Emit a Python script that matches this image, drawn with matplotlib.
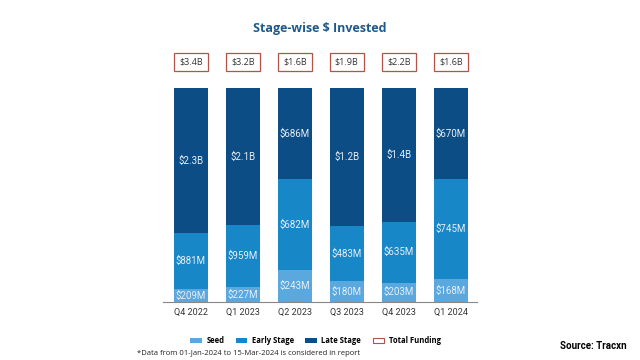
import matplotlib
matplotlib.use("Agg")
import matplotlib.pyplot as plt
from matplotlib.patches import Patch, Rectangle

quarters = ["Q4 2022", "Q1 2023", "Q2 2023", "Q3 2023", "Q4 2023", "Q1 2024"]
seed = [209, 227, 243, 180, 203, 168]          # $M
early = [881, 959, 682, 483, 635, 745]         # $M
late = [2300, 2100, 686, 1200, 1400, 670]      # $M
seed_lbl = ["$209M", "$227M", "$243M", "$180M", "$203M", "$168M"]
early_lbl = ["$881M", "$959M", "$682M", "$483M", "$635M", "$745M"]
late_lbl = ["$2.3B", "$2.1B", "$686M", "$1.2B", "$1.4B", "$670M"]
total_lbl = ["$3.4B", "$3.2B", "$1.6B", "$1.9B", "$2.2B", "$1.6B"]

c_seed = "#5AA8DE"
c_early = "#1887C8"
c_late = "#0D4D85"
c_box = "#B5524C"

plt.rcParams["font.family"] = ["Open Sans", "DejaVu Sans"]

fig = plt.figure(figsize=(6.4, 3.6), dpi=100)
ax = fig.add_axes([0.255, 0.161, 0.49, 0.594])

x = list(range(len(quarters)))
tot = [s + e + l for s, e, l in zip(seed, early, late)]
ps = [s / t for s, t in zip(seed, tot)]
pe = [e / t for e, t in zip(early, tot)]
pl = [l / t for l, t in zip(late, tot)]
w = 0.65

ax.bar(x, ps, w, color=c_seed, label="Seed")
ax.bar(x, pe, w, bottom=ps, color=c_early, label="Early Stage")
bot2 = [a + b for a, b in zip(ps, pe)]
ax.bar(x, pl, w, bottom=bot2, color=c_late, label="Late Stage")

txt = dict(ha="center", va="center", color="#E6EEF6", fontsize=7, family=["Roboto", "DejaVu Sans"])
box_h = 0.084
box_y = 1.121
for i in x:
    ax.text(i, ps[i] / 2, seed_lbl[i], **txt)
    ax.text(i, ps[i] + pe[i] / 2, early_lbl[i], **txt)
    ax.text(i, bot2[i] + pl[i] / 2, late_lbl[i], **txt)
    ax.add_patch(Rectangle((i - w / 2, box_y - box_h / 2), w, box_h, fc="white", ec=c_box,
                           lw=0.9, clip_on=False))
    ax.text(i, box_y, total_lbl[i], ha="center", va="center", fontsize=6.5, color="#333333")

ax.set_xlim(-0.53, 5.5)
ax.set_ylim(0, 1)
ax.set_xticks(x)
ax.set_xticklabels(quarters, fontsize=6.5, color="#333333", family=["Roboto", "DejaVu Sans"])
ax.tick_params(axis="x", length=0, pad=4)
ax.set_yticks([])
for s in ["top", "right", "left"]:
    ax.spines[s].set_visible(False)
ax.spines["bottom"].set_color("#888888")
ax.spines["bottom"].set_linewidth(0.8)

fig.text(0.5, 0.922, "Stage-wise $ Invested", ha="center", va="center", fontsize=9,
         fontweight="bold", color="#1F5A8C")

handles = [Patch(fc=c_seed), Patch(fc=c_early), Patch(fc=c_late), Patch(fc="white", ec=c_box, lw=0.8)]
fig.legend(handles, ["Seed", "Early Stage", "Late Stage", "Total Funding"], loc="center",
           bbox_to_anchor=(0.493, 0.053), ncol=4, frameon=False, prop=dict(size=5.5, weight="bold"),
           handlelength=1.5, handleheight=0.6, columnspacing=1.5, handletextpad=0.6)

fig.text(0.214, 0.018, "*Data from 01-Jan-2024 to 15-Mar-2024 is considered in report", fontsize=5.5,
         color="#222222", va="center")
fig.text(0.875, 0.04, "Source: Tracxn", fontsize=7, fontweight="bold", va="center", ha="left",
         family=["Roboto", "DejaVu Sans"])

fig.savefig("out.png", dpi=100)
